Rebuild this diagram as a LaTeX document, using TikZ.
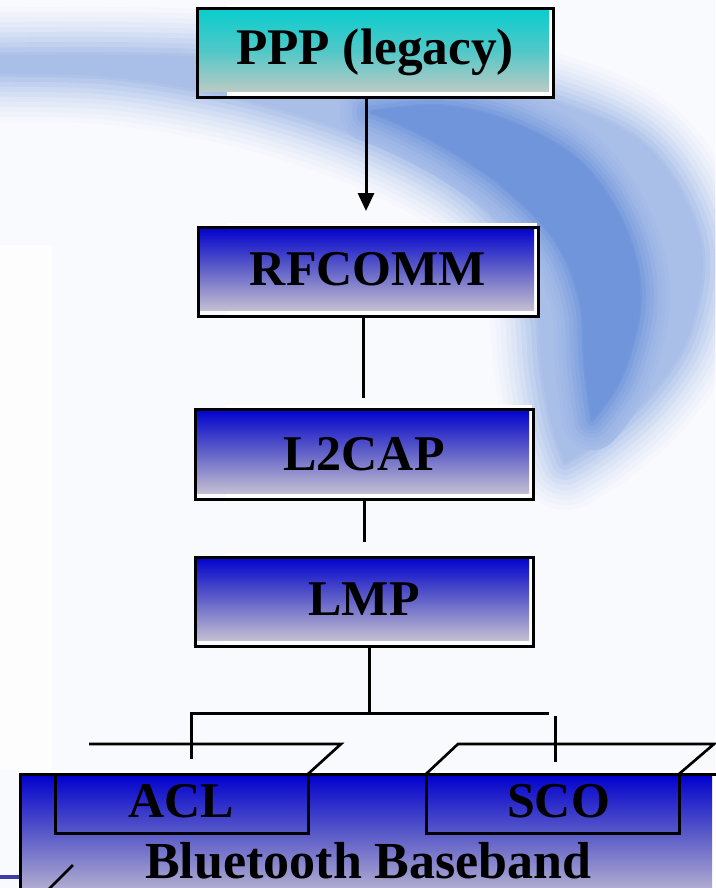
\documentclass[tikz,border=0pt]{standalone}
\usepackage{fontspec}
\setmainfont{Liberation Serif}
\usetikzlibrary{arrows.meta}
\pgfdeclarelayer{swooshlayer}
\pgfdeclarelayer{shadelayer}
\pgfsetlayers{swooshlayer,shadelayer,main}
\definecolor{bgc}{RGB}{249,250,253}
\definecolor{swoosh}{RGB}{100,140,215}
\definecolor{bluetop}{RGB}{0,0,205}
\definecolor{bluemid}{RGB}{95,95,200}
\definecolor{bluebot}{RGB}{195,190,210}
\definecolor{cyantop}{RGB}{10,205,205}
\definecolor{cyanmid}{RGB}{80,200,200}
\definecolor{cyanbot}{RGB}{188,202,196}
\definecolor{sideline}{RGB}{60,60,170}
\tikzset{
  layerbox/.style={draw=black, line width=2.25pt, outer sep=0pt, inner sep=0pt,
    font=\fontsize{37.5pt}{40pt}\selectfont\bfseries, text depth=0pt},
  blueshade/.style={top color=bluetop, bottom color=bluebot, middle color=bluemid},
  cyanshade/.style={top color=cyantop, bottom color=cyanbot, middle color=cyanmid},
  conn/.style={draw=black, line width=2.25pt},
  tipline/.style={draw=black, line width=2pt},
}
\newcommand\boxbg[2]{%
  \fill[white] ([xshift=22.5pt,yshift=3pt]#1.north west) rectangle ([xshift=-0.75pt]#1.south east);
  \shade[#2] (#1.north west) rectangle ([xshift=-3pt,yshift=4.5pt]#1.south east);}
\begin{document}
\begin{tikzpicture}[x=0.75pt,y=-0.75pt]
\useasboundingbox (0,0) rectangle (715,888);

% background swoosh
\begin{pgfonlayer}{swooshlayer}
\clip (0,0) rectangle (715,888);
\fill[bgc] (0,0) rectangle (715,888);
\fill[white!60!bgc] (0,245) rectangle (52,770);
\foreach \w/\p in {96/3,86/6,76/10,66/14,56/19,46/25,36/31,26/37,16/44,6/50,0.5/54} {
  \filldraw[draw=swoosh!\p!bgc, fill=swoosh!\p!bgc, line width=\w*0.75pt, line join=round]
    plot[smooth, tension=0.6] coordinates {(-40,56) (100,55) (220,58) (340,68) (450,82) (560,104) (650,150) (700,240) (690,330) (650,395) (600,440) (565,462)}
    -- plot[smooth, tension=0.6] coordinates {(565,462) (552,425) (542,370) (535,300) (510,240) (465,192) (395,152) (315,120) (220,94) (100,76) (-40,74)}
    -- cycle;
}
\foreach \w/\p in {60/56,52/59,44/62,36/66,28/71,20/76,12/82,4/88,0.5/92} {
  \filldraw[draw=swoosh!\p!bgc, fill=swoosh!\p!bgc, line width=\w*0.75pt, line join=round]
    plot[smooth, tension=0.6] coordinates {(370,112) (440,106) (510,122) (580,162) (625,228) (640,300) (622,375) (592,420)}
    -- plot[smooth, tension=0.6] coordinates {(592,420) (585,365) (580,300) (555,240) (505,188) (450,150) (400,124) (370,112)}
    -- cycle;
}
\draw[sideline, line width=3pt] (0,877) -- (20,877);
\end{pgfonlayer}

% boxes
\node[layerbox, minimum width=267pt, minimum height=66.75pt, text height=17.25pt,
  font=\fontsize{38.5pt}{40pt}\selectfont\bfseries] (ppp) at (375,53.5) {PPP (legacy)};
\node[layerbox, minimum width=255pt, minimum height=66.75pt, text height=20.25pt] (rfcomm) at (368,271.5) {RFCOMM};
\node[layerbox, minimum width=253.5pt, minimum height=67.5pt, text height=24pt] (l2cap) at (364,454) {L2CAP};
\node[layerbox, minimum width=253.5pt, minimum height=66.75pt, text height=20.25pt] (lmp) at (364,601.5) {LMP};
\node[layerbox, minimum width=522.75pt, minimum height=90.75pt, text height=65.25pt,
  font=\fontsize{39pt}{40pt}\selectfont\bfseries] (bb) at (368.5,834.5) {Bluetooth Baseband};
\node[layerbox, minimum width=189.75pt, minimum height=44.25pt, text height=20.25pt] (acl) at (181.5,803.5) {ACL\hspace{9pt}};
\node[layerbox, minimum width=189.75pt, minimum height=44.25pt, text height=20.25pt] (sco) at (552.5,803.5) {\hspace{9pt}SCO};

\begin{pgfonlayer}{shadelayer}
\clip (0,0) rectangle (715,888);
\boxbg{ppp}{cyanshade}
\boxbg{rfcomm}{blueshade}
\boxbg{l2cap}{blueshade}
\boxbg{lmp}{blueshade}
\fill[white] ([xshift=22.5pt,yshift=3pt]bb.north west) rectangle (715,900);
\shade[blueshade] (bb.north west) rectangle (712,900);
\end{pgfonlayer}

% connectors
\coordinate (atip) at (366,211);
\draw[conn, -{Triangle[length=13.5pt,width=12pt]}] (ppp.south -| atip) -- (atip);
\coordinate (rl) at (363,398);
\draw[conn] (rfcomm.south -| rl) -- (rl);
\coordinate (ll) at (364,542);
\draw[conn] (l2cap.south -| ll) -- (ll);
\coordinate (split) at (369,713);
\draw[conn] (lmp.south -| split) -- (split);
\coordinate (hend) at (549,713);
\coordinate (acldrop) at (191,759);
\draw[conn] (acldrop) |- (hend);
\coordinate (scodrop) at (555,762);
\draw[conn] (scodrop) -- ++(0,-46);

% 3-D tops of ACL and SCO
\draw[tipline] (acl.north east) -- ++(33,-30) -- ++(-252,0);
\draw[tipline] (sco.north west) -- ++(32,-30) -- ++(256,0) -- (sco.north east);
\draw[tipline] (73,865) -- (46,892);
\end{tikzpicture}
\end{document}
